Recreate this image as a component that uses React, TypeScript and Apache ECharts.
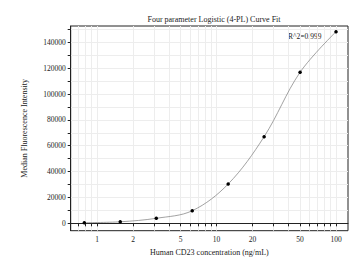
import React, { useEffect, useRef } from "react";
import * as echarts from "echarts";

const concentrations = [0.78, 1.56, 3.125, 6.25, 12.5, 25, 50, 100];
const mfi = [500, 1200, 3900, 9750, 30400, 67000, 116800, 148200];
const xLabelValues = [1, 2, 5, 10, 20, 50, 100];
const xTickValues = [0.7, 0.8, 0.9, 1, 2, 3, 4, 5, 6, 7, 8, 9, 10, 20, 30, 40, 50, 60, 70, 80, 90, 100];
const yLabelValues = [0, 20000, 40000, 60000, 80000, 100000, 120000, 140000];
const yTickValues = [0, 10000, 20000, 30000, 40000, 50000, 60000, 70000, 80000, 90000, 100000, 110000, 120000, 130000, 140000, 150000];
const titleText = "Four parameter Logistic (4-PL) Curve Fit";
const xName = "Human CD23 concentration (ng/mL)";
const yName = "Median Fluorescence Intensity";
const r2Text = "R^2=0.999";

const FONT = "'Liberation Serif', 'Times New Roman', serif";

export default function App() {
  const ref = useRef<HTMLDivElement>(null);
  useEffect(() => {
    if (!ref.current) return;
    const chart = echarts.init(ref.current, null, { renderer: "svg" });
    const pts = concentrations.map((c, i) => [c, mfi[i]]);
    chart.setOption({
      animation: false,
      backgroundColor: "#ffffff",
      textStyle: { fontFamily: FONT },
      title: {
        text: titleText,
        left: 209,
        top: 10,
        textAlign: "center",
        textStyle: { fontFamily: FONT, fontSize: 8, fontWeight: "normal", color: "#222" },
      },
      grid: { left: 70.7, right: 3, top: 26, bottom: 31.3, show: true, borderColor: "#222", borderWidth: 1, backgroundColor: "transparent" },
      xAxis: {
        type: "log",
        logBase: 10,
        min: 0.6,
        max: 126,
        name: xName,
        nameLocation: "middle",
        nameGap: 18,
        nameTextStyle: { fontFamily: FONT, fontSize: 8, color: "#222" },
        axisLine: { show: true, lineStyle: { color: "#222", width: 1 } },
        axisTick: { show: true, length: 3, customValues: xTickValues, lineStyle: { color: "#222" } },
        axisLabel: { customValues: xLabelValues, fontFamily: FONT, fontSize: 7.5, color: "#222", margin: 5, formatter: (v: number) => String(v) },
        splitLine: { show: true, lineStyle: { color: "#ededed", width: 1 } },
        minorTick: { show: false },
      },
      yAxis: {
        type: "value",
        min: -5700,
        max: 152600,
        name: yName,
        nameLocation: "middle",
        nameGap: 42,
        nameTextStyle: { fontFamily: FONT, fontSize: 8, color: "#222" },
        axisLine: { show: true, lineStyle: { color: "#222", width: 1 } },
        axisTick: { show: true, length: 3, customValues: yTickValues, lineStyle: { color: "#222" } },
        axisLabel: { customValues: yLabelValues, fontFamily: FONT, fontSize: 7.5, color: "#222", margin: 5, formatter: (v: number) => String(v) },
        splitLine: { show: true, lineStyle: { color: "#ededed", width: 1 } },
      },
      graphic: [
        {
          type: "text",
          left: 288,
          top: 32,
          style: { text: r2Text, font: "7.5px " + FONT, fill: "#222" },
        },
      ],
      series: [
        {
          type: "line",
          data: pts,
          smooth: 0.35,
          showSymbol: true,
          symbol: "circle",
          symbolSize: 3.5,
          itemStyle: { color: "#000" },
          lineStyle: { color: "#8a8a8a", width: 0.8 },
        },
      ],
    });
    return () => chart.dispose();
  }, []);
  return <div ref={ref} style={{ position: "fixed", left: 0, top: 0, width: 351, height: 262 }} />;
}
